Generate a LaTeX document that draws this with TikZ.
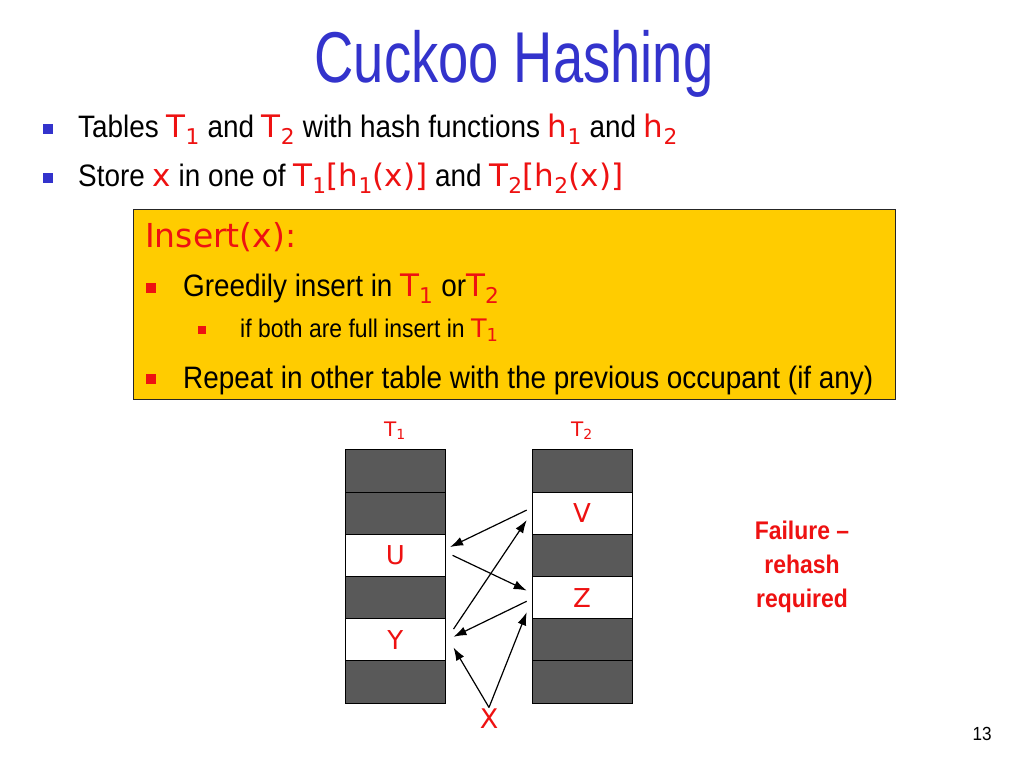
\documentclass[tikz,border=0pt]{standalone}
\usepackage{fontspec}
\setmainfont[FakeStretch=0.9]{Liberation Sans}
\newfontfamily\titlefont[FakeStretch=0.755]{Liberation Sans}
\newfontfamily\comic{DejaVu Sans}
\usetikzlibrary{arrows.meta,calc}
\definecolor{tblue}{HTML}{3333CC}
\definecolor{tred}{HTML}{EE1111}
\definecolor{tyellow}{HTML}{FFCC00}
\definecolor{cellgray}{HTML}{595959}
\newcommand\rd[1]{{\comic\color{tred}#1}}
\newcommand\sbs[1]{\textsubscript{#1}}
\tikzset{
  bulletsq/.style={rectangle, minimum size=10, inner sep=0},
  bodytext/.style={anchor=base west, inner sep=0, font=\fontsize{31}{34}\selectfont},
  cellbox/.style={draw=black, line width=0.8, minimum width=100, minimum height=42.3, inner sep=0, anchor=north west},
  darkcell/.style={cellbox, fill=cellgray},
  lightcell/.style={cellbox, fill=white, text=tred, font=\comic\fontsize{26}{26}\selectfont},
  arr/.style={-{Latex[length=13,width=9]}, line width=1.2},
}
\begin{document}
\begin{tikzpicture}[x=1pt,y=-1pt]
\path[use as bounding box, fill=white] (0,0) rectangle (1024,768);
% title
\node[anchor=base, inner sep=0, text=tblue, font=\titlefont\fontsize{72}{80}\selectfont] (title) at (514,82) {Cuckoo Hashing};
% top bullets
\node[bulletsq, fill=tblue] (b1) at (48,128.5) {};
\node[bodytext] (l1) at (78,137) {Tables \rd{T\sbs{1}} and \rd{T\sbs{2}} with hash functions \rd{h\sbs{1}} and \rd{h\sbs{2}}};
\node[bulletsq, fill=tblue] (b2) at (48,178) {};
\node[bodytext] (l2) at (78,186) {Store \rd{x} in one of \rd{T\sbs{1}[h\sbs{1}(x)]} and \rd{T\sbs{2}[h\sbs{2}(x)]}};
% yellow box
\node[draw=black!85, line width=1, fill=tyellow, minimum width=762, minimum height=190, anchor=north west, inner sep=0] (box) at (133,209) {};
\node[anchor=base west, inner sep=0, text=tred, font=\comic\fontsize{33}{36}\selectfont] (ins) at (145,247) {Insert(x):};
\node[bulletsq, fill=tred] (b3) at (151,288) {};
\node[bodytext] (l3) at (183,296) {Greedily insert in \rd{T\sbs{1}} or\rd{T\sbs{2}}};
\node[bulletsq, minimum size=8, fill=tred] (b4) at (202,330) {};
\node[bodytext, font=\fontsize{25.5}{28}\selectfont] (l4) at (240,337) {if both are full insert in \rd{T\sbs{1}}};
\node[bulletsq, fill=tred] (b5) at (151,379) {};
\node[bodytext] (l5) at (183,388) {Repeat in other table with the previous occupant (if any)};
% tables
\foreach \n/\s/\t in {1/darkcell/,2/darkcell/,3/lightcell/U,4/darkcell/,5/lightcell/Y,6/darkcell/}{
  \node[\s] (a\n) at (345,{449.3+(\n-1)*42.23}) {\t};
}
\foreach \n/\s/\t in {1/darkcell/,2/lightcell/V,3/darkcell/,4/lightcell/Z,5/darkcell/,6/darkcell/}{
  \node[\s] (c\n) at (531.7,{449.3+(\n-1)*42.23}) {\t};
}
\node[text=tred, font=\comic\fontsize{20}{22}\selectfont] (t1) at (395,431) {T\sbs{1}};
\node[text=tred, font=\comic\fontsize{20}{22}\selectfont] (t2) at (582,431) {T\sbs{2}};
\node[text=tred, inner sep=1.5, font=\comic\fontsize{27}{27}\selectfont] (x) at (489,719) {X};
% arrows
\draw[arr] ($(c2.west)+(-5,-3)$) -- ($(a3.east)+(4.3,-8.3)$);
\draw[arr] ($(a3.east)+(6.7,0)$) -- ($(c4.west)+(-5,-7)$);
\draw[arr] ($(c4.west)+(-5,3.7)$) -- ($(a5.east)+(7.7,-3)$);
\draw[arr] ($(a5.east)+(7.7,-10.7)$) -- ($(c2.west)+(-5,7)$);
\draw[arr] (x.north) -- ($(a5.east)+(7.7,7.7)$);
\draw[arr] (x.north) -- ($(c4.west)+(-5,14.7)$);
% failure note
\node[text=tred, align=center, inner sep=0, font=\bfseries\fontsize{25.5}{34}\selectfont] (fail) at (802,567) {Failure –\\rehash\\required};
\node[anchor=base, inner sep=0, font=\fontsize{19}{20}\selectfont] (pg) at (982,740) {13};
\end{tikzpicture}
\end{document}
